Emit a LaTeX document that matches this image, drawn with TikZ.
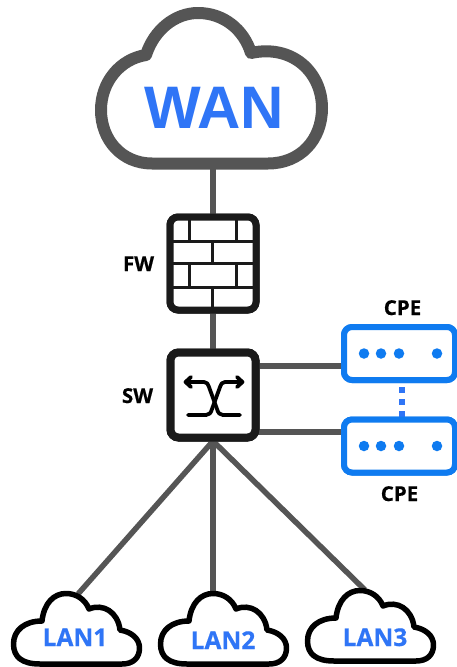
\documentclass[tikz,border=0pt]{standalone}
\usepackage{fontspec}
\setmainfont{Open Sans}[BoldFeatures={FakeBold=0.5}]
\newfontfamily\wanfont{Liberation Sans}
\definecolor{wire}{HTML}{555555}
\definecolor{labelblue}{HTML}{2F75F6}
\definecolor{cpeblue}{HTML}{0F7BF0}
\definecolor{boxblack}{HTML}{1A1A1A}
\tikzset{
  wirelink/.style={draw=wire,line width=6.5pt},
  thinlink/.style={draw=wire,line width=5.5pt},
  devbox/.style={draw=boxblack,fill=white,rectangle,inner sep=0pt,outer sep=0pt,rounded corners=8pt},
  cpebox/.style={draw=cpeblue,fill=white,rectangle,inner sep=0pt,outer sep=0pt,rounded corners=8pt,line width=6pt,minimum width=111pt,minimum height=53pt},
  dotmark/.style={circle,fill=cpeblue,inner sep=0pt,minimum size=10.5pt},
  devlabel/.style={font=\fontsize{20.5}{20.5}\selectfont\bfseries,text=black,inner sep=0pt,anchor=base},
  lanlabel/.style={font=\fontsize{24.5}{24.5}\selectfont\bfseries,text=labelblue,inner sep=0pt,anchor=base},
  brick/.style={draw=boxblack,line width=3pt},
  swline/.style={draw=black,line width=3.8pt,line cap=round,line join=round},
  lancloud/.style={draw=black,fill=white,line width=5.5pt,line join=round},
}
\newcommand{\lancloudpath}{
  (40,664) .. controls (22,664) and (13.5,657) .. (13.5,644)
  .. controls (13.5,630) and (25,621) .. (42,621)
  .. controls (44,603) and (54,593.5) .. (66,593.5)
  .. controls (76,593.5) and (85,599) .. (89,609)
  .. controls (103,603) and (118,612) .. (120,630)
  .. controls (132,632) and (139.5,639) .. (139.5,648)
  .. controls (139.5,658) and (133,664) .. (122,664) -- cycle
}
\begin{document}
\begin{tikzpicture}[x=1pt,y=-1pt]
\useasboundingbox (0,0) rectangle (457,667);
\fill[white] (0,0) rectangle (457,667);

% anchors on the clouds
\coordinate (wanb) at (213,165);
\coordinate (lana) at (78,594);
\coordinate (lanb) at (213,594);
\coordinate (lanc) at (365,590);
\coordinate (swb) at (213,441);

% device boxes
\node[devbox,line width=7pt,minimum width=86pt,minimum height=93pt] (fw) at (213,263.5) {};
\node[devbox,line width=8pt,minimum width=85pt,minimum height=85pt] (sw) at (213,395) {};
\node[cpebox] (cpea) at (399.5,353.5) {};
\node[cpebox] (cpeb) at (399.5,446) {};

% connectors
\draw[wirelink] (wanb) -- (fw.north);
\draw[wirelink] (fw.south) -- (sw.north);
\draw[thinlink] (sw.east |- 0,366) coordinate (swea) -- (cpea.west |- swea);
\draw[thinlink] (sw.east |- 0,432) coordinate (sweb) -- (cpeb.west |- sweb);
\draw[thinlink] (swb) -- (lana);
\draw[thinlink] (swb) -- (lanb);
\draw[thinlink] (swb) -- (lanc);
\draw[draw=labelblue,line width=5.5pt,dash pattern=on 6pt off 6pt] (402,387) coordinate (cpedash) -- (cpeb.north -| cpedash);

% boxes redrawn above the wires
\node[devbox,line width=7pt,minimum width=86pt,minimum height=93pt] at (fw) {};
\node[devbox,line width=8pt,minimum width=85pt,minimum height=85pt] at (sw) {};
\node[cpebox] at (cpea) {};
\node[cpebox] at (cpeb) {};

% firewall bricks
\draw[brick] (170,241) -- (256,241) (170,263) -- (256,263) (170,287) -- (256,287);
\draw[brick] (189,217) -- (189,241) (236,217) -- (236,241)
             (212,241) -- (212,263)
             (189,263) -- (189,287) (236,263) -- (236,287)
             (212,287) -- (212,310);

% switch glyph
\draw[swline] (186,382) -- (204,382) .. controls (207,382) and (208,384) .. (209,387) -- (217,409) .. controls (218,413) and (220,415) .. (223,415) -- (240,415);
\draw[swline] (242,382) -- (225,382) .. controls (222,382) and (221,384) .. (220,387) -- (212,409) .. controls (211,413) and (209,415) .. (206,415) -- (188,415);
\draw[swline] (191,377) -- (185.5,382) -- (191,387);
\draw[swline] (237,377) -- (242.5,382) -- (237,387);

% CPE dots
\foreach \px/\nm in {364/a,381/b,399/c,437/d}{
  \node[dotmark] (cpea\nm) at (\px,353.5) {};
  \node[dotmark] (cpeb\nm) at (\px,446) {};
}

% WAN cloud
\draw[draw=wire,fill=white,line width=12pt,line join=round]
  (152,163.5) .. controls (122,163.5) and (101,140) .. (101,110)
  .. controls (101,82) and (120,59) .. (146,55)
  .. controls (154,30) and (175,13) .. (198,13)
  .. controls (224,13) and (244,30) .. (251,53)
  .. controls (292,44) and (322,72) .. (322,108)
  .. controls (322,140) and (300,163.5) .. (268,163.5) -- cycle;
\node[font=\wanfont\fontsize{60}{60}\selectfont\bfseries,text=labelblue,inner sep=0pt,anchor=base] (wan) at (214,128.5) {WAN};

% LAN clouds
\draw[lancloud] \lancloudpath;
\begin{scope}[xshift=147pt,yshift=0pt]
\draw[lancloud] \lancloudpath;
\end{scope}
\begin{scope}[xshift=294pt,yshift=3pt]
\draw[lancloud] \lancloudpath;
\end{scope}
\node[lanlabel] (lantexta) at (75,646) {LAN1};
\node[lanlabel] (lantextb) at (223,649) {LAN2};
\node[lanlabel] (lantextc) at (375,646) {LAN3};

% device labels
\node[devlabel] (fwlabel) at (138.5,271) {FW};
\node[devlabel] (swlabel) at (137.5,403) {SW};
\node[devlabel] (cpetop) at (402.5,315) {CPE};
\node[devlabel] (cpebot) at (399.5,501) {CPE};
\end{tikzpicture}
\end{document}
